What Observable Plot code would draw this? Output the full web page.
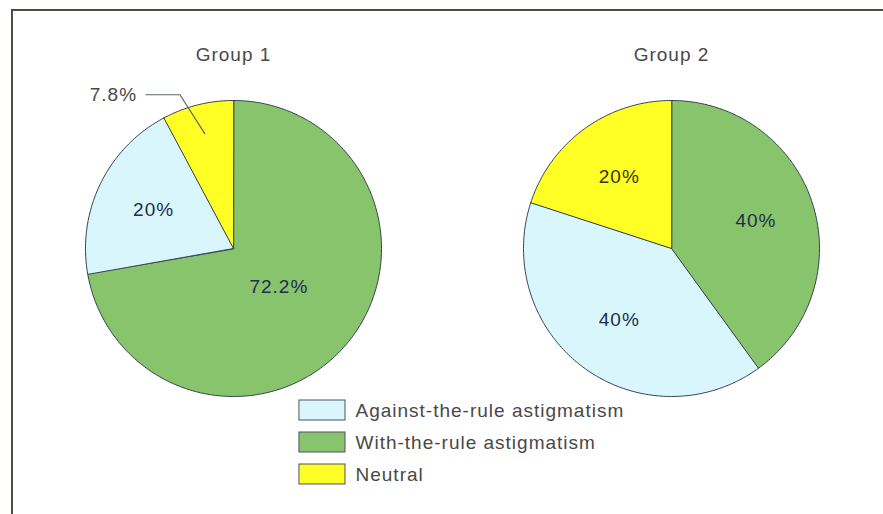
<!DOCTYPE html>
<html>
<head>
<meta charset="utf-8">
<script src="https://cdn.jsdelivr.net/npm/d3@7"></script>
<script src="https://cdn.jsdelivr.net/npm/@observablehq/plot@0.6"></script>
<style>
  html, body { margin: 0; padding: 0; background: #ffffff; }
  #wrap { position: relative; width: 883px; height: 514px; overflow: hidden; background: #fff; }
  #border { position: absolute; left: 11px; top: 9px; right: -10px; bottom: -10px;
            border-top: 2.5px solid #4b5046; border-left: 2.5px solid #4b5046; }
  #pies, #legend { position: absolute; }
  #pies { left: 0; top: 0; }
  #legend { left: 298px; top: 394px; }
  svg { font-family: "Liberation Sans", Arial, sans-serif; }
  svg text { letter-spacing: 1px; }
</style>
</head>
<body>
<div id="wrap">
  <div id="border"></div>
  <div id="pies"></div>
  <div id="legend"></div>
</div>
<script>
// Astigmatism type shares in two groups (percent)
const groups = ["Group 1", "Group 2"];
const categories = ["With-the-rule astigmatism", "Against-the-rule astigmatism", "Neutral"];
const group1Values = [72.2, 20, 7.8];
const group2Values = [40, 40, 20];
const labels1 = ["72.2%", "20%", "7.8%"];
const labels2 = ["40%", "40%", "20%"];
const colors = ["#88c46c", "#d8f6fb", "#ffff26"];
const legendOrder = ["Against-the-rule astigmatism", "With-the-rule astigmatism", "Neutral"];

// Layout: one data unit equals one pie radius
const W = 883, H = 514;
const R = 148;                 // radius in px
const centersPx = [233, 671];  // pie centres (px)
const centerYPx = 248;
const x0 = centersPx[0];
const xDomain = [(0 - x0) / R, (W - x0) / R];
const yDomain = [-(H - centerYPx) / R, centerYPx / R];
const cxOf = i => (centersPx[i] - x0) / R;

const colorScale = {domain: categories, range: colors};

const series = [group1Values, group2Values];
const texts = [labels1, labels2];

const slicePoints = [];
const sliceLabels = [];
const leaders = [];
const outerLabels = [];

series.forEach((values, gi) => {
  const data = values.map((v, k) => ({category: categories[k], value: v, label: texts[gi][k]}));
  const arcs = d3.pie().sort(null).value(d => d.value).startAngle(0).endAngle(2 * Math.PI)(data);
  const cx = cxOf(gi), cy = 0;
  arcs.forEach((a, k) => {
    const key = `${gi}-${k}`;
    const cat = a.data.category;
    slicePoints.push({key, category: cat, x: cx, y: cy});
    const n = Math.max(2, Math.ceil((a.endAngle - a.startAngle) / (Math.PI / 180)));
    for (let s = 0; s <= n; ++s) {
      const t = a.startAngle + (a.endAngle - a.startAngle) * s / n;
      slicePoints.push({key, category: cat, x: cx + Math.sin(t), y: cy + Math.cos(t)});
    }
    const mid = (a.startAngle + a.endAngle) / 2;
    if (a.data.value < 10) {
      // small slice: label outside with an elbow leader line
      const p1 = {x: cx + 0.8 * Math.sin(mid), y: cy + 0.8 * Math.cos(mid)};
      const elbow = mid - 0.09;
      const p2 = {x: cx + 1.1 * Math.sin(elbow), y: cy + 1.1 * Math.cos(elbow)};
      const p3 = {x: p2.x - 0.23, y: p2.y};
      [p1, p2, p3].forEach(p => leaders.push({key, ...p}));
      outerLabels.push({x: p3.x - 0.06, y: p3.y, text: a.data.label});
    } else {
      const r = a.data.value > 50 ? 0.4 : 0.6;
      sliceLabels.push({
        x: cx + r * Math.sin(mid), y: cy + r * Math.cos(mid),
        text: a.data.label, category: cat
      });
    }
  });
});

const titles = groups.map((g, i) => ({x: cxOf(i), y: 1 + 46 / R, text: g}));

const pies = Plot.plot({
  width: W, height: H,
  margin: 0,
  x: {domain: xDomain, range: [0, W], axis: null},
  y: {domain: yDomain, range: [H, 0], axis: null},
  color: colorScale,
  style: {background: "transparent", fontFamily: "'Liberation Sans', Arial, sans-serif"},
  marks: [
    Plot.line(slicePoints, {
      x: "x", y: "y", z: "key", fill: "category",
      stroke: "#38424f", strokeWidth: 1, curve: "linear-closed", strokeLinejoin: "miter"
    }),
    Plot.text(sliceLabels.filter(d => d.category !== "Neutral"), {
      x: "x", y: "y", text: "text", fill: "#1f2d4e", fontSize: 19
    }),
    Plot.text(sliceLabels.filter(d => d.category === "Neutral"), {
      x: "x", y: "y", text: "text", fill: "#3a3212", fontSize: 19
    }),
    Plot.line(leaders, {x: "x", y: "y", z: "key", stroke: "#5b6660", strokeWidth: 1.2}),
    Plot.text(outerLabels, {
      x: "x", y: "y", text: "text", textAnchor: "end", fill: "#484848", fontSize: 19
    }),
    Plot.text(titles, {x: "x", y: "y", text: "text", fill: "#484848", fontSize: 19})
  ]
});
document.getElementById("pies").append(pies);

// Legend: one row per category, swatch bar plus its name
const legend = Plot.plot({
  width: 360, height: 96,
  margin: 0,
  x: {domain: [0, 7.66], range: [0, 360], axis: null},
  y: {domain: legendOrder, range: [0, 96], paddingInner: 0.39, paddingOuter: 0.195, axis: null},
  color: colorScale,
  style: {background: "transparent", fontFamily: "'Liberation Sans', Arial, sans-serif"},
  marks: [
    Plot.barX(legendOrder, {
      x1: 0.02, x2: 1, y: d => d, fill: d => d, stroke: "#4a5360", strokeWidth: 1
    }),
    Plot.text(legendOrder, {
      x: 1, y: d => d, text: d => d, dx: 10, textAnchor: "start", fill: "#484848", fontSize: 19
    })
  ]
});
document.getElementById("legend").append(legend);
</script>
</body>
</html>
